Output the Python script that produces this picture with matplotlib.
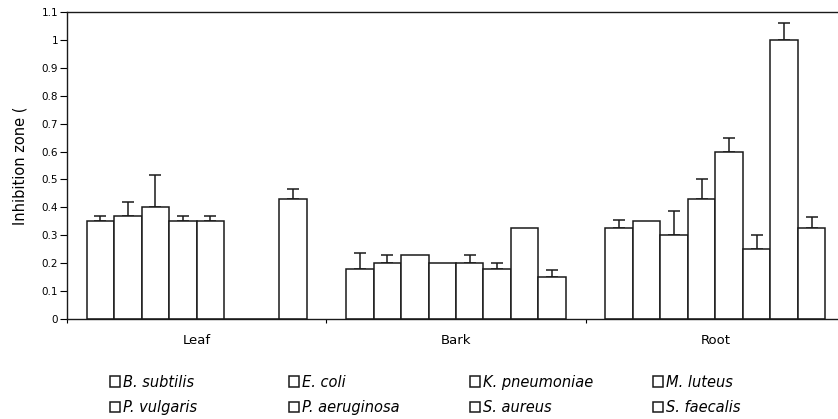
import numpy as np
import matplotlib
matplotlib.use('Agg')
import matplotlib.pyplot as plt
from matplotlib.ticker import FuncFormatter

# donnees
groupes = ['Leaf', 'Bark', 'Root']
especes = ['B. subtilis', 'E. coli', 'K. pneumoniae', 'M. luteus',
           'P. vulgaris', 'P. aeruginosa', 'S. aureus', 'S. faecalis']

leaf = [0.35, 0.37, 0.40, 0.35, 0.35, 0.0, 0.0, 0.43]
bark = [0.18, 0.20, 0.23, 0.20, 0.20, 0.18, 0.325, 0.15]
root = [0.325, 0.35, 0.30, 0.43, 0.60, 0.25, 1.00, 0.325]

leaf_err = [0.02, 0.05, 0.115, 0.02, 0.02, 0, 0, 0.035]
bark_err = [0.055, 0.03, 0, 0, 0.03, 0.02, 0, 0.025]
root_err = [0.03, 0, 0.088, 0.07, 0.05, 0.05, 0.06, 0.04]

valeurs = np.array([leaf, bark, root])
erreurs = np.array([leaf_err, bark_err, root_err])

fig = plt.figure(figsize=(8.38, 4.19), dpi=100)
ax = fig.add_axes([67/838, 100/419, 778/838, 307/419])

w = 0.106
x = np.arange(len(groupes))
barres = []
for j in range(len(especes)):
    pos = x + 0.5 + (j - 3.5)*w
    b = ax.bar(pos, valeurs[:, j], width=w, color='white', edgecolor='#1a1a1a',
               linewidth=1.1, label=especes[j], zorder=2)
    barres.append(b)
    m = erreurs[:, j] > 0
    if m.any():
        ax.errorbar(pos[m], valeurs[m, j],
                    yerr=[np.zeros(m.sum()), erreurs[m, j]],
                    fmt='none', ecolor='#1a1a1a', elinewidth=1.1,
                    capsize=4.3, capthick=1.1, zorder=1)

ax.set_xlim(0, 3)
ax.set_ylim(0, 1.1)
ax.set_yticks(np.arange(0, 1.11, 0.1))
ax.yaxis.set_major_formatter(FuncFormatter(lambda v, p: '%g' % round(v, 1)))
ax.tick_params(axis='y', direction='out', length=5, width=0.8, pad=1.5, labelsize=7.5)

ax.set_xticks(x + 0.5)
ax.set_xticklabels(groupes)
ax.set_xticks([0, 1, 2, 3], minor=True)
ax.tick_params(axis='x', which='major', length=0, pad=11, labelsize=9.5)
ax.tick_params(axis='x', which='minor', direction='out', length=3, width=0.8)

ax.spines['right'].set_visible(False)
for s in ['left', 'bottom', 'top']:
    ax.spines[s].set_linewidth(1.0)
    ax.spines[s].set_color('#1a1a1a')

ax.set_ylabel('Inhibition zone (', fontsize=10.5, labelpad=10)

# legende en 4 colonnes de largeur egale
cols_x = [110, 289, 470, 653]
for c in range(4):
    fig.legend([barres[c], barres[c + 4]], [especes[c], especes[c + 4]],
               loc='upper left', bbox_to_anchor=(cols_x[c]/838, 0.106),
               frameon=False, borderpad=0, borderaxespad=0,
               handlelength=0.7, handleheight=0.7, handletextpad=0.2,
               labelspacing=0.7, prop={'style': 'italic', 'size': 10.5})

fig.savefig('out.png', dpi=100)
